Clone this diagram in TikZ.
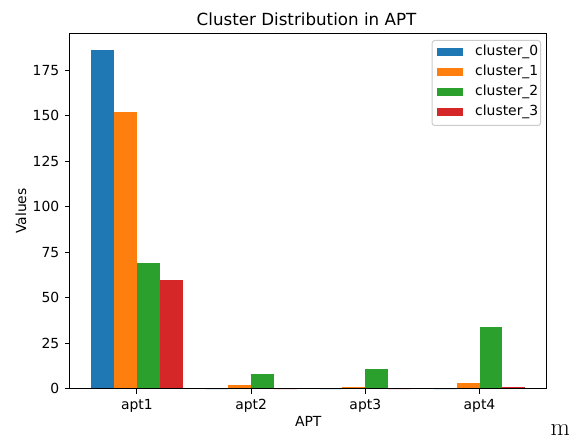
\documentclass[tikz,border=0pt]{standalone}
\usepackage{fontspec}
\setmainfont{DejaVu Sans}
\newfontfamily\lmfont{Latin Modern Roman}
\definecolor{tabblue}{HTML}{1F77B4}
\definecolor{taborange}{HTML}{FF7F0E}
\definecolor{tabgreen}{HTML}{2CA02C}
\definecolor{tabred}{HTML}{D62728}
\begin{document}
\begin{tikzpicture}[x=1pt,y=1pt,
  ticklab/.style={font=\fontsize{13.9}{15}\selectfont, text=black, inner sep=0pt},
  barA/.style={fill=tabblue},
  barB/.style={fill=taborange},
  barC/.style={fill=tabgreen},
  barD/.style={fill=tabred},
  frameline/.style={draw=black, line width=1pt},
  tickline/.style={draw=black, line width=1pt}]
\useasboundingbox (0,0) rectangle (576,442);
\fill[white] (0,0) rectangle (576,442);
% title
\node[font=\fontsize{16.7}{18}\selectfont, anchor=base] (title) at (306.5,416.3) {Cluster Distribution in APT};
\begin{scope}[shift={(136.9pt,53.2pt)}, x=114.2pt, y=1.82pt]
  % bars: width 0.2
  \foreach \g/\a/\b/\c/\d in {0/186/152/69/60, 1/0/2/8/0, 2/0/1/11/0, 3/0/3/34/1}{
    \fill[barA] (\g-0.4,0) rectangle (\g-0.2,\a);
    \fill[barB] (\g-0.2,0) rectangle (\g,\b);
    \fill[barC] (\g,0) rectangle (\g+0.2,\c);
    \fill[barD] (\g+0.2,0) rectangle (\g+0.4,\d);
  }
  % frame
  \coordinate (ll) at (-0.59,0);
  \coordinate (ur) at (3.59,195.3);
  \draw[frameline] (ll) rectangle (ur);
  % y ticks
  \foreach \v in {0,25,50,75,100,125,150,175}{
    \draw[tickline] (-0.59,\v) -- ++(-4.9pt,0) node[ticklab, anchor=east, xshift=-4.9pt] (yt\v) {\v};
  }
  % x ticks
  \foreach \i/\lab in {0/apt1,1/apt2,2/apt3,3/apt4}{
    \draw[tickline] (\i,0) -- ++(0,-4.9pt) node[ticklab, anchor=north, yshift=-4.9pt] (xt\i) {\lab};
  }
\end{scope}
% axis labels
\node[ticklab, anchor=base] (xlabel) at (308.2,15) {APT};
\node[ticklab, anchor=base, rotate=90] (ylabel) at (26,230.9) {Values};
% legend
\node[draw=black!20, fill=white, fill opacity=0.8, draw opacity=1, rounded corners=2.5pt, line width=1pt, minimum width=108.3pt, minimum height=85pt, anchor=north west, inner sep=0pt] (legend) at (431.7,402) {};
\foreach \k/\col/\lab in {0/tabblue/cluster\_0,1/taborange/cluster\_1,2/tabgreen/cluster\_2,3/tabred/cluster\_3}{
  \fill[\col] (436.7,{390.3-20*\k-4}) rectangle (462.7,{390.3-20*\k+4});
  \node[ticklab, anchor=west] (leg\k) at (475,{390.3-20*\k}) {\lab};
}
% stray letter
\node[font=\lmfont\fontsize{25}{25}\selectfont, anchor=base east, inner sep=0pt] (m) at (570,6) {m};
\end{tikzpicture}
\end{document}
